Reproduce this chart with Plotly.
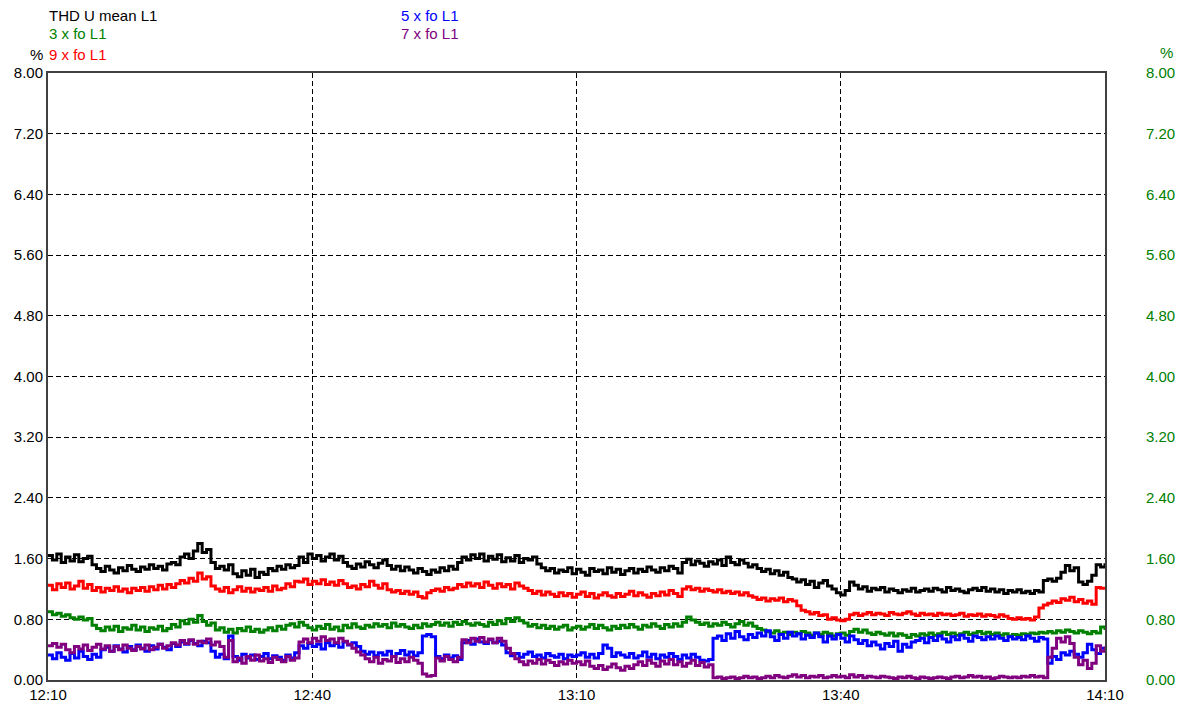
import pandas as pd
import plotly.graph_objects as go

# 30-second samples, 12:10 to 14:10
times = pd.date_range("2024-01-01 12:10:00", periods=241, freq="30s")

thd_mean = [
    1.64, 1.58, 1.66, 1.55, 1.62, 1.57, 1.65, 1.56, 1.60, 1.63, 1.52, 1.47, 1.43, 1.50, 1.45, 1.41, 1.48, 1.44, 1.51, 1.46,
    1.43, 1.49, 1.46, 1.52, 1.47, 1.50, 1.45, 1.53, 1.55, 1.52, 1.62, 1.66, 1.60, 1.70, 1.80, 1.68, 1.72, 1.55, 1.47, 1.50,
    1.45, 1.52, 1.40, 1.36, 1.44, 1.38, 1.46, 1.35, 1.42, 1.39, 1.47, 1.44, 1.50, 1.46, 1.52, 1.48, 1.51, 1.62, 1.55, 1.66,
    1.60, 1.64, 1.57, 1.62, 1.66, 1.58, 1.63, 1.55, 1.50, 1.47, 1.53, 1.49, 1.56, 1.52, 1.48, 1.54, 1.58, 1.51, 1.46, 1.50,
    1.44, 1.49, 1.45, 1.41, 1.47, 1.43, 1.39, 1.45, 1.42, 1.48, 1.44, 1.50, 1.46, 1.55, 1.62, 1.58, 1.65, 1.60, 1.66, 1.57,
    1.63, 1.59, 1.65, 1.56, 1.61, 1.57, 1.64, 1.55, 1.60, 1.58, 1.62, 1.53, 1.48, 1.44, 1.47, 1.41, 1.45, 1.43, 1.48, 1.40,
    1.46, 1.42, 1.38, 1.47, 1.43, 1.45, 1.40, 1.48, 1.42, 1.46, 1.39, 1.44, 1.47, 1.41, 1.46, 1.43, 1.49, 1.45, 1.42, 1.48,
    1.44, 1.50, 1.47, 1.41, 1.55, 1.59, 1.52, 1.57, 1.54, 1.50, 1.56, 1.53, 1.58, 1.51, 1.62, 1.55, 1.52, 1.58, 1.54, 1.49,
    1.52, 1.47, 1.43, 1.46, 1.40, 1.44, 1.38, 1.42, 1.35, 1.33, 1.29, 1.32, 1.26, 1.30, 1.22, 1.28, 1.31, 1.24, 1.20, 1.15,
    1.12, 1.18, 1.29, 1.25, 1.20, 1.23, 1.17, 1.21, 1.19, 1.22, 1.16, 1.20, 1.18, 1.15, 1.19, 1.17, 1.21, 1.16, 1.18, 1.20,
    1.17, 1.21, 1.19, 1.16, 1.22, 1.18, 1.20, 1.17, 1.15, 1.19, 1.21, 1.18, 1.22, 1.17, 1.20, 1.16, 1.19, 1.14, 1.18, 1.16,
    1.19, 1.15, 1.17, 1.14, 1.18, 1.16, 1.31, 1.33, 1.30, 1.34, 1.42, 1.51, 1.44, 1.48, 1.29, 1.26, 1.30, 1.38, 1.52, 1.49,
    1.54,
]

h3 = [
    0.90, 0.86, 0.88, 0.84, 0.86, 0.82, 0.80, 0.83, 0.79, 0.81, 0.72, 0.68, 0.65, 0.70, 0.66, 0.71, 0.64, 0.69, 0.67, 0.72,
    0.66, 0.70, 0.64, 0.69, 0.67, 0.71, 0.65, 0.68, 0.73, 0.70, 0.78, 0.74, 0.80, 0.76, 0.85, 0.77, 0.72, 0.75, 0.66, 0.69,
    0.63, 0.67, 0.62, 0.68, 0.65, 0.70, 0.64, 0.67, 0.63, 0.66, 0.69, 0.65, 0.71, 0.67, 0.72, 0.74, 0.70, 0.76, 0.72, 0.69,
    0.66, 0.71, 0.68, 0.73, 0.67, 0.70, 0.65, 0.72, 0.69, 0.74, 0.70, 0.68, 0.72, 0.70, 0.74, 0.71, 0.73, 0.69, 0.75, 0.71,
    0.73, 0.70, 0.68, 0.72, 0.69, 0.74, 0.71, 0.73, 0.76, 0.72, 0.75, 0.71, 0.76, 0.73, 0.77, 0.74, 0.72, 0.75, 0.73, 0.71,
    0.76, 0.73, 0.78, 0.74, 0.81, 0.77, 0.82, 0.78, 0.75, 0.71, 0.73, 0.69, 0.72, 0.68, 0.71, 0.67, 0.70, 0.72, 0.66, 0.69,
    0.71, 0.67, 0.70, 0.73, 0.68, 0.72, 0.69, 0.66, 0.71, 0.68, 0.72, 0.69, 0.73, 0.70, 0.67, 0.72, 0.70, 0.74, 0.71, 0.68,
    0.73, 0.70, 0.74, 0.71, 0.76, 0.83, 0.79, 0.76, 0.73, 0.75, 0.71, 0.74, 0.72, 0.76, 0.73, 0.70, 0.74, 0.77, 0.72, 0.75,
    0.71, 0.68, 0.66, 0.64, 0.62, 0.65, 0.61, 0.63, 0.60, 0.63, 0.61, 0.64, 0.62, 0.59, 0.62, 0.60, 0.63, 0.61, 0.58, 0.61,
    0.62, 0.59, 0.64, 0.67, 0.63, 0.66, 0.62, 0.60, 0.63, 0.61, 0.59, 0.62, 0.58, 0.61, 0.59, 0.56, 0.60, 0.58, 0.61, 0.59,
    0.62, 0.59, 0.61, 0.63, 0.60, 0.62, 0.59, 0.61, 0.63, 0.60, 0.62, 0.64, 0.61, 0.63, 0.60, 0.62, 0.59, 0.61, 0.58, 0.60,
    0.59, 0.61, 0.60, 0.62, 0.61, 0.63, 0.62, 0.64, 0.62, 0.65, 0.63, 0.66, 0.64, 0.62, 0.65, 0.63, 0.61, 0.64, 0.62, 0.70,
    0.66,
]

h5 = [
    0.33, 0.28, 0.36, 0.30, 0.26, 0.35, 0.29, 0.38, 0.31, 0.27, 0.34, 0.30, 0.40, 0.43, 0.38, 0.45, 0.41, 0.37, 0.44, 0.40,
    0.46, 0.42, 0.38, 0.45, 0.41, 0.47, 0.43, 0.40, 0.48, 0.44, 0.50, 0.47, 0.52, 0.48, 0.45, 0.51, 0.49, 0.38, 0.30, 0.34,
    0.28, 0.58, 0.31, 0.26, 0.34, 0.29, 0.33, 0.27, 0.31, 0.35, 0.28, 0.32, 0.30, 0.26, 0.33, 0.29, 0.36, 0.45, 0.42, 0.48,
    0.44, 0.47, 0.41, 0.49, 0.45, 0.48, 0.43, 0.50, 0.46, 0.49, 0.44, 0.38, 0.34, 0.37, 0.32, 0.36, 0.33, 0.38, 0.31, 0.35,
    0.39, 0.33, 0.37, 0.32, 0.36, 0.58, 0.60, 0.57, 0.31, 0.28, 0.33, 0.29, 0.32, 0.27, 0.49, 0.52, 0.47, 0.54, 0.50, 0.48,
    0.53, 0.49, 0.51, 0.46, 0.36, 0.32, 0.35, 0.30, 0.34, 0.37, 0.31, 0.33, 0.29, 0.35, 0.32, 0.30, 0.34, 0.28, 0.33, 0.31,
    0.33, 0.36, 0.30, 0.34, 0.29, 0.35, 0.46, 0.42, 0.31, 0.36, 0.33, 0.30, 0.35, 0.29, 0.32, 0.37, 0.30, 0.34, 0.28, 0.33,
    0.30, 0.35, 0.31, 0.27, 0.33, 0.29, 0.34, 0.30, 0.26, 0.25, 0.27, 0.55, 0.58, 0.52, 0.61, 0.55, 0.64, 0.57, 0.53, 0.60,
    0.56, 0.62, 0.58, 0.65, 0.57, 0.52, 0.60, 0.55, 0.63, 0.58, 0.61, 0.54, 0.59, 0.56, 0.62, 0.57, 0.50, 0.58, 0.54, 0.60,
    0.55, 0.50, 0.58, 0.53, 0.48, 0.52, 0.45, 0.50, 0.46, 0.41, 0.48, 0.44, 0.51, 0.38, 0.47, 0.43, 0.50, 0.52, 0.55, 0.49,
    0.56, 0.52, 0.58, 0.54, 0.50, 0.57, 0.53, 0.59, 0.55, 0.51, 0.58, 0.56, 0.53, 0.57, 0.54, 0.58, 0.55, 0.52, 0.57, 0.54,
    0.56, 0.53, 0.58, 0.55, 0.51, 0.56, 0.54, 0.22, 0.31, 0.27, 0.36, 0.33, 0.38, 0.34, 0.30, 0.36, 0.47, 0.40, 0.35, 0.42,
    0.39,
]

h7 = [
    0.45, 0.48, 0.43, 0.47, 0.40, 0.36, 0.44, 0.41, 0.46, 0.39, 0.43, 0.47, 0.41, 0.45, 0.38, 0.44, 0.40, 0.46, 0.42, 0.39,
    0.44, 0.41, 0.46, 0.40, 0.43, 0.47, 0.42, 0.45, 0.49, 0.46, 0.52, 0.48, 0.53, 0.47, 0.51, 0.49, 0.54, 0.46, 0.50, 0.44,
    0.30, 0.52, 0.24, 0.29, 0.22, 0.31, 0.26, 0.33, 0.25, 0.28, 0.23, 0.30, 0.27, 0.24, 0.31, 0.26, 0.29, 0.50, 0.54, 0.49,
    0.55, 0.51, 0.57, 0.52, 0.54, 0.49, 0.55, 0.51, 0.47, 0.42, 0.37, 0.33, 0.28, 0.24, 0.30, 0.22, 0.27, 0.25, 0.31, 0.23,
    0.28, 0.24, 0.30, 0.26, 0.22, 0.08, 0.05, 0.06, 0.29, 0.25, 0.31, 0.27, 0.24, 0.30, 0.53, 0.49, 0.55, 0.51, 0.56, 0.50,
    0.54, 0.49, 0.55, 0.51, 0.42, 0.35, 0.28, 0.24, 0.20, 0.25, 0.22, 0.27, 0.21, 0.26, 0.23, 0.19, 0.24, 0.21, 0.26, 0.22,
    0.24, 0.20, 0.25, 0.18, 0.15, 0.19, 0.14, 0.17, 0.21, 0.16, 0.13, 0.18, 0.15, 0.20, 0.24, 0.19, 0.26, 0.22, 0.18, 0.25,
    0.21, 0.27, 0.20, 0.24, 0.18, 0.22, 0.26, 0.19, 0.23, 0.17, 0.20, 0.03, 0.04, 0.02, 0.03, 0.04, 0.02, 0.03, 0.05, 0.03,
    0.04, 0.02, 0.03, 0.05, 0.03, 0.06, 0.04, 0.03, 0.05, 0.07, 0.04, 0.06, 0.03, 0.05, 0.04, 0.06, 0.03, 0.04, 0.06, 0.04,
    0.05, 0.03, 0.07, 0.04, 0.06, 0.03, 0.05, 0.04, 0.03, 0.05, 0.04, 0.03, 0.02, 0.04, 0.03, 0.05, 0.03, 0.02, 0.04, 0.03,
    0.02, 0.03, 0.04, 0.03, 0.02, 0.04, 0.05, 0.03, 0.04, 0.06, 0.04, 0.05, 0.03, 0.04, 0.02, 0.03, 0.05, 0.04, 0.03, 0.04,
    0.03, 0.05, 0.04, 0.06, 0.04, 0.05, 0.03, 0.30, 0.42, 0.55, 0.50, 0.57, 0.48, 0.30, 0.20, 0.26, 0.15, 0.22, 0.45, 0.38,
    0.44,
]

h9 = [
    1.25, 1.19, 1.27, 1.22, 1.28, 1.20, 1.24, 1.30, 1.21, 1.26, 1.18, 1.22, 1.16, 1.21, 1.18, 1.23, 1.17, 1.20, 1.15, 1.21,
    1.18, 1.22, 1.17, 1.23, 1.19, 1.25, 1.20, 1.26, 1.22, 1.27, 1.31, 1.28, 1.34, 1.30, 1.41, 1.33, 1.36, 1.24, 1.20, 1.17,
    1.22, 1.15, 1.19, 1.23, 1.17, 1.21, 1.16, 1.20, 1.18, 1.22, 1.17, 1.24, 1.19, 1.21, 1.27, 1.23, 1.30, 1.29, 1.33, 1.26,
    1.30, 1.27, 1.32, 1.26, 1.29, 1.25, 1.31, 1.27, 1.22, 1.24, 1.20, 1.26, 1.23, 1.30, 1.25, 1.21, 1.27, 1.19, 1.16, 1.18,
    1.14, 1.17, 1.13, 1.16, 1.10, 1.08, 1.15, 1.18, 1.20, 1.17, 1.22, 1.19, 1.21, 1.26, 1.23, 1.28, 1.24, 1.27, 1.22, 1.29,
    1.25, 1.21, 1.27, 1.23, 1.26, 1.20, 1.28, 1.24, 1.21, 1.18, 1.14, 1.17, 1.12, 1.16, 1.13, 1.10, 1.15, 1.11, 1.14, 1.09,
    1.13, 1.16, 1.10, 1.14, 1.08, 1.12, 1.15, 1.11, 1.09, 1.14, 1.10, 1.13, 1.17, 1.11, 1.15, 1.12, 1.09, 1.14, 1.11, 1.16,
    1.12, 1.18, 1.14, 1.10, 1.20, 1.23, 1.19, 1.21, 1.17, 1.20, 1.18, 1.16, 1.19, 1.15, 1.17, 1.14, 1.16, 1.12, 1.15, 1.11,
    1.09, 1.06, 1.08, 1.04, 1.07, 1.05, 1.08, 1.03, 1.06, 1.04, 0.98, 0.92, 0.90, 0.87, 0.89, 0.85, 0.86, 0.80, 0.82, 0.79,
    0.78, 0.80, 0.86, 0.88, 0.85, 0.87, 0.89, 0.86, 0.88, 0.87, 0.85, 0.89, 0.87, 0.86, 0.88, 0.90, 0.87, 0.85, 0.88, 0.86,
    0.87, 0.85, 0.88, 0.86, 0.87, 0.85, 0.86, 0.88, 0.84, 0.86, 0.85, 0.87, 0.84, 0.86, 0.85, 0.83, 0.86, 0.84, 0.81, 0.80,
    0.82, 0.80, 0.81, 0.79, 0.83, 0.95, 0.99, 1.01, 1.04, 1.02, 1.07, 1.05, 1.09, 1.03, 1.06, 1.01, 1.04, 1.00, 1.22, 1.21,
    1.23,
]

series_names = ["THD U mean L1", "3 x fo L1", "9 x fo L1", "5 x fo L1", "7 x fo L1"]
series_values = [thd_mean, h3, h9, h5, h7]
series_colors = ["#000000", "#008000", "#ff0000", "#0000ff", "#800080"]

y_ticks = [0.0, 0.8, 1.6, 2.4, 3.2, 4.0, 4.8, 5.6, 6.4, 7.2, 8.0]
x_tick_labels = ["12:10", "12:40", "13:10", "13:40", "14:10"]
x_ticks = pd.date_range("2024-01-01 12:10:00", periods=5, freq="30min")

FONT = "Liberation Sans"
W, H = 1188, 710
ML, MR, MT, MB = 48, 83, 73, 30

fig = go.Figure()
for name, vals, col in zip(series_names, series_values, series_colors):
    fig.add_trace(go.Scatter(
        x=times, y=vals, name=name, mode="lines",
        line=dict(color=col, width=3, shape="hv"),
        showlegend=False,
    ))

# invisible trace to carry the green right-hand axis
fig.add_trace(go.Scatter(x=[times[0]], y=[0], yaxis="y2", mode="markers",
                         marker=dict(opacity=0), showlegend=False, hoverinfo="skip"))

grid_dash = "5px,3px"
fig.update_layout(
    width=W, height=H,
    margin=dict(l=ML, r=MR, t=MT, b=MB, autoexpand=False),
    paper_bgcolor="white", plot_bgcolor="white",
    font=dict(family=FONT, size=15, color="#000000"),
    xaxis=dict(
        type="date", automargin=False,
        range=[times[0], times[-1]],
        tickvals=x_ticks, ticktext=x_tick_labels,
        showgrid=True, gridcolor="#000000", gridwidth=1, griddash=grid_dash,
        showline=True, linecolor="#404040", linewidth=2, mirror=True,
        ticks="", zeroline=False,
        tickfont=dict(family=FONT, size=15, color="#000000"),
    ),
    yaxis=dict(
        range=[0, 8], tickvals=y_ticks, tickformat=".2f", automargin=False,
        showgrid=True, gridcolor="#000000", gridwidth=1, griddash=grid_dash,
        showline=True, linecolor="#404040", linewidth=2, mirror=True,
        ticks="", zeroline=False,
        tickfont=dict(family=FONT, size=15, color="#000000"),
    ),
    yaxis2=dict(
        overlaying="y", side="right", range=[0, 8], automargin=False,
        tickvals=y_ticks, tickformat=".2f",
        showgrid=False, zeroline=False, showline=False, ticks="",
        ticklabelstandoff=40,
        tickfont=dict(family=FONT, size=15, color="#008000"),
    ),
)

pw = W - ML - MR
ph = H - MT - MB


def px(xp):
    return (xp - ML) / pw


def py(yp):
    return 1 - (yp - MT) / ph


labels = [
    ("THD U mean L1", 47, 15, "#000000"),
    ("3 x fo L1", 47, 34, "#008000"),
    ("9 x fo L1", 47, 54, "#ff0000"),
    ("5 x fo L1", 399, 15, "#0000ff"),
    ("7 x fo L1", 399, 34, "#800080"),
]
for text, xp, yp, col in labels:
    fig.add_annotation(text=text, xref="paper", yref="paper", x=px(xp), y=py(yp),
                       xanchor="left", yanchor="middle", showarrow=False,
                       font=dict(family=FONT, size=15, color=col))

fig.add_annotation(text="%", xref="paper", yref="paper", x=px(45), y=py(54),
                   xanchor="right", yanchor="middle", showarrow=False,
                   font=dict(family=FONT, size=15, color="#000000"))
fig.add_annotation(text="%", xref="paper", yref="paper", x=px(1166), y=py(53),
                   xanchor="center", yanchor="middle", showarrow=False,
                   font=dict(family=FONT, size=15, color="#008000"))

fig.write_html("out.html")
